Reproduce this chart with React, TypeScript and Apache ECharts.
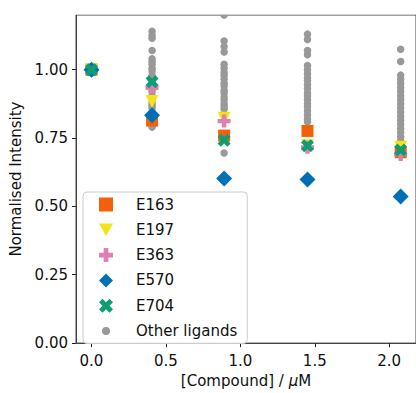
import React, { useEffect, useRef } from "react";
import * as echarts from "echarts";

const seriesNames = ["E163", "E197", "E363", "E570", "E704"];
const concentrations = [0, 0.407, 0.891, 1.451, 2.077];
const e163 = [1.0, 0.814, 0.759, 0.776, 0.698];
const e197 = [1.0, 0.884, 0.822, 0.722, 0.716];
const e363 = [1.0, 0.934, 0.812, 0.716, 0.69];
const e570 = [1.0, 0.833, 0.602, 0.598, 0.536];
const e704 = [1.0, 0.956, 0.742, 0.722, 0.706];

const otherAt0 = [1.0, 1.0, 1.0];
const otherAt1 = [1.14, 1.125, 1.115, 1.07, 1.04, 1.03, 1.02, 1.005, 0.995, 0.98, 0.97, 0.955, 0.945, 0.93, 0.92, 0.905, 0.895, 0.88, 0.87, 0.86, 0.845, 0.835, 0.82, 0.81, 0.8, 0.79];
const otherAt2 = [1.2, 1.105, 1.085, 1.065, 1.02, 1.005, 0.99, 0.98, 0.965, 0.95, 0.94, 0.925, 0.915, 0.9, 0.89, 0.875, 0.865, 0.855, 0.695];
const otherAt3 = [1.13, 1.11, 1.07, 1.055, 1.015, 1.0, 0.985, 0.97, 0.96, 0.945, 0.93, 0.915, 0.905, 0.89, 0.875, 0.865, 0.85, 0.835, 0.82, 0.81];
const otherAt4 = [1.075, 1.03, 0.98, 0.965, 0.95, 0.935, 0.92, 0.905, 0.89, 0.875, 0.86, 0.845, 0.83, 0.815, 0.8, 0.785, 0.77, 0.755, 0.74];

const xTicks = [0, 0.5, 1.0, 1.5, 2.0];
const yTicks = [0, 0.25, 0.5, 0.75, 1.0];

const colors = {
  E163: "#f4600a",
  E197: "#f4e417",
  E363: "#e07fb2",
  E570: "#0070b6",
  E704: "#0d9e73",
  other: "#999999",
};

const plusPath = "path://M-1,-3L1,-3L1,-1L3,-1L3,1L1,1L1,3L-1,3L-1,1L-3,1L-3,-1L-1,-1Z";
const xPath = "path://M2,-4L4,-2L2,0L4,2L2,4L0,2L-2,4L-4,2L-2,0L-4,-2L-2,-4L0,-2Z";
const triDownPath = "path://M-1,-0.9L1,-0.9L0,0.9Z";
const smallCirclePath = "path://M-7,-7L-7,-7M7,7L7,7M-4,0A4,4 0 1 0 4,0A4,4 0 1 0 -4,0Z";

function pairs(ys: number[]) {
  return ys.map((y, i) => [concentrations[i], y]);
}

export default function App() {
  const ref = useRef<HTMLDivElement>(null);
  useEffect(() => {
    if (!ref.current) return;
    const chart = echarts.init(ref.current, undefined, { renderer: "svg" });
    const otherData: number[][] = [];
    [otherAt0, otherAt1, otherAt2, otherAt3, otherAt4].forEach((col, i) => {
      col.forEach((y) => otherData.push([concentrations[i], y]));
    });
    const font = "DejaVu Sans";
    chart.setOption({
      animation: false,
      textStyle: { fontFamily: font },
      grid: {
        left: 76,
        top: 15,
        width: 342,
        height: 334,
        show: true,
        borderColor: "#444",
        borderWidth: 1,
        backgroundColor: "transparent",
      },
      graphic: [
        {
          type: "rect",
          left: 0,
          top: 0,
          shape: { x: 0, y: 0, width: 416, height: 14.5 },
          style: { fill: "#ffffff" },
          z: 50,
          silent: true,
        },
      ],
      legend: {
        orient: "vertical",
        left: 83,
        top: 192,
        data: [
          { name: seriesNames[0] },
          { name: seriesNames[1] },
          { name: seriesNames[2] },
          { name: seriesNames[3] },
          { name: seriesNames[4] },
          { name: "Other ligands", icon: smallCirclePath },
        ],
        itemWidth: 14,
        itemHeight: 14,
        itemGap: 10.3,
        padding: [5, 10, 5, 16],
        backgroundColor: "rgba(255,255,255,0.85)",
        borderColor: "#cccccc",
        borderWidth: 1,
        borderRadius: 4,
        textStyle: { fontFamily: font, fontSize: 15, color: "#111", padding: [0, 0, 0, 18] },
      },
      xAxis: {
        type: "value",
        min: -0.104,
        max: 2.18,
        splitLine: { show: false },
        axisLine: { show: true, onZero: false, lineStyle: { color: "#444", width: 1 } },
        axisTick: { show: true, length: 4, lineStyle: { color: "#222" }, customValues: xTicks },
        axisLabel: {
          customValues: xTicks,
          fontFamily: font,
          fontSize: 15,
          color: "#111",
          margin: 10,
          formatter: (v: number) => v.toFixed(1),
        },
        name: "[Compound] / {i|μ}M",
        nameLocation: "middle",
        nameGap: 21,
        nameTextStyle: {
          fontFamily: font,
          fontSize: 15,
          color: "#111",
          verticalAlign: "top",
          rich: { i: { fontFamily: font, fontSize: 15, fontStyle: "italic", color: "#111" } },
        },
      },
      yAxis: {
        type: "value",
        min: 0,
        max: 1.2,
        splitLine: { show: false },
        axisLine: { show: true, onZero: false, lineStyle: { color: "#444", width: 1 } },
        axisTick: { show: true, length: 4, lineStyle: { color: "#222" }, customValues: yTicks },
        axisLabel: {
          customValues: yTicks,
          fontFamily: font,
          fontSize: 15,
          color: "#111",
          margin: 8,
          formatter: (v: number) => v.toFixed(2),
        },
        name: "Normalised Intensity",
        nameLocation: "middle",
        nameGap: 44,
        nameTextStyle: { fontFamily: font, fontSize: 15, color: "#111" },
      },
      series: [
        {
          name: "Other ligands",
          type: "scatter",
          data: otherData,
          symbol: "circle",
          symbolSize: 7.5,
          itemStyle: { color: colors.other, opacity: 1 },
          z: 1,
        },
        {
          name: "E163",
          type: "scatter",
          data: pairs(e163),
          symbol: "rect",
          symbolSize: 12,
          itemStyle: { color: colors.E163, opacity: 1 },
          z: 2,
        },
        {
          name: "E197",
          type: "scatter",
          data: pairs(e197),
          symbol: triDownPath,
          symbolSize: 13,
          itemStyle: { color: colors.E197, opacity: 1 },
          z: 3,
        },
        {
          name: "E363",
          type: "scatter",
          data: pairs(e363),
          symbol: plusPath,
          symbolSize: 13,
          itemStyle: { color: colors.E363, opacity: 1 },
          z: 4,
        },
        {
          name: "E570",
          type: "scatter",
          data: pairs(e570),
          symbol: "diamond",
          symbolSize: 16,
          itemStyle: { color: colors.E570, opacity: 1 },
          z: 5,
        },
        {
          name: "E704",
          type: "scatter",
          data: pairs(e704),
          symbol: xPath,
          symbolSize: 13,
          itemStyle: { color: colors.E704, opacity: 1 },
          z: 6,
        },
      ],
    });
    return () => chart.dispose();
  }, []);
  return <div ref={ref} style={{ width: 416, height: 393, position: "absolute", left: 0, top: 0 }} />;
}
